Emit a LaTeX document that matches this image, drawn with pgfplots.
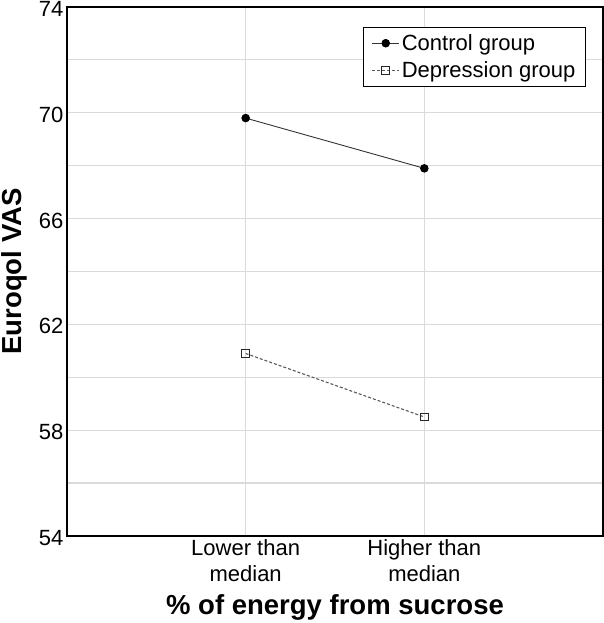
\documentclass[border=0pt]{standalone}
\usepackage{pgfplots}
\pgfplotsset{compat=1.18}
\usepackage{fontspec}
\setmainfont{Liberation Sans}
\definecolor{gridgray}{RGB}{218,218,218}
\begin{document}
\begin{tikzpicture}
\begin{axis}[
  name=ax,
  scale only axis,
  width=536pt, height=529pt,
  xmin=0, xmax=3, ymin=54, ymax=74,
  xtick={1,2},
  xticklabels={Lower than\\median, Higher than\\median},
  xticklabel style={align=center, font=\fontsize{22}{26}\selectfont},
  ytick={54,58,62,66,70,74},
  minor ytick={56,60,64,68,72},
  yticklabel style={font=\fontsize{22}{26}\selectfont, yshift=-2pt},
  /pgf/number format/assume math mode=true,
  grid=both,
  major grid style={gridgray, line width=1.2pt},
  minor grid style={gridgray, line width=1.2pt},
  major tick length=0pt, minor tick length=0pt,
  axis line style={black, line width=1.8pt},
  xlabel={\bfseries\% of energy from sucrose},
  ylabel={\bfseries Euroqol VAS},
  label style={font=\fontsize{27.5}{32}\selectfont},
  xlabel style={yshift=-6pt},
  ylabel style={yshift=5pt},
  legend style={at={(rel axis cs:0.968,0.962)}, anchor=north east,
    draw=black, line width=0.8pt, font=\fontsize{22}{26}\selectfont,
    inner xsep=8pt, inner ysep=5pt, row sep=6pt, cells={anchor=west}},
  legend image code/.code={
    \draw[#1] (0pt,0pt) -- (27pt,0pt);
    \draw[#1, solid] plot coordinates {(13.5pt,0pt)};
  },
]
\addplot[color=black!80, line width=0.9pt, mark=*, mark size=3.8pt,
  mark options={fill=black, draw=black, solid}]
  coordinates {(1,69.8) (2,67.9)};
\addlegendentry{Control group}
\addplot[color=black!65, line width=1.1pt, dash pattern=on 3pt off 2pt,
  mark=square, mark size=3.8pt,
  mark options={draw=black!85, fill=white, solid, line width=1pt}]
  coordinates {(1,60.9) (2,58.5)};
\addlegendentry{Depression group}
\end{axis}
\pgfresetboundingbox
\path[use as bounding box] ([shift={(-67pt,-87pt)}]ax.south west) rectangle ([shift={(1pt,7pt)}]ax.north east);
\end{tikzpicture}
\end{document}
